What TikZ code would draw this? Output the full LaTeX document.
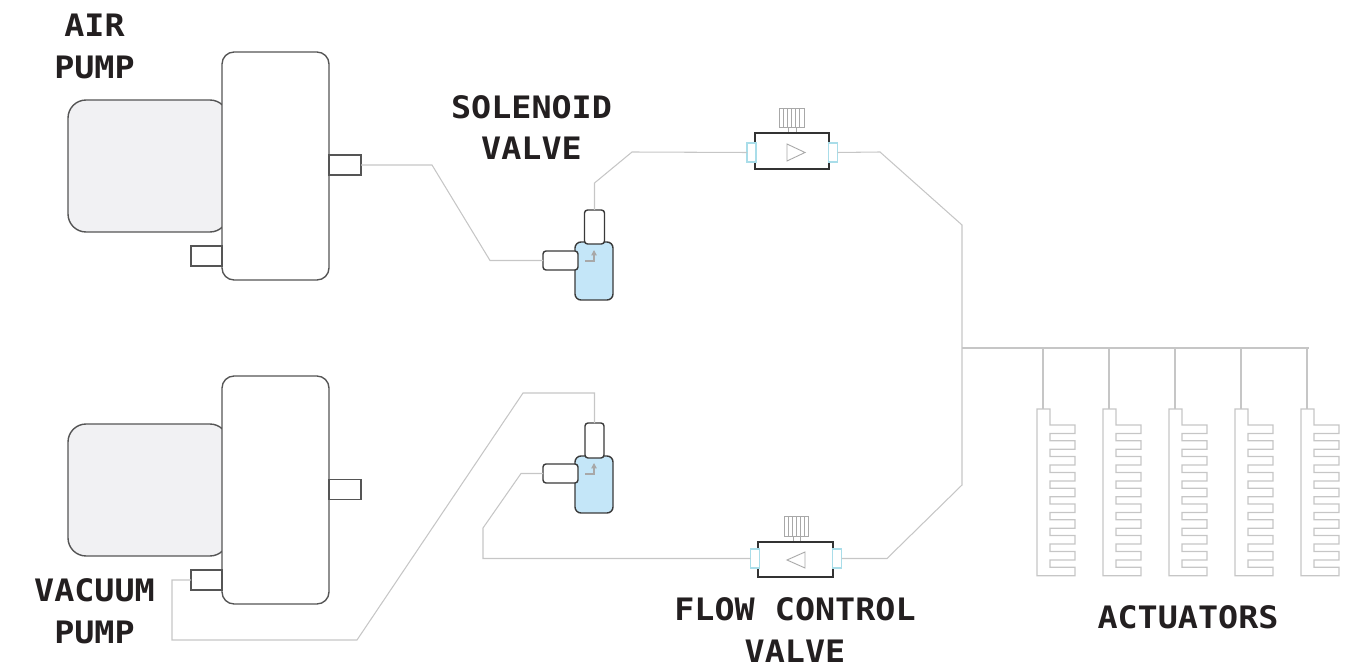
\documentclass[tikz,border=0pt]{standalone}
\usepackage{fontspec}
\newfontfamily\tagfont[FakeStretch=1.08]{DejaVu Sans Mono}
\usetikzlibrary{arrows.meta}

\definecolor{pipegray}{HTML}{C6C6C6}
\definecolor{pumpedge}{HTML}{555555}
\definecolor{motorgray}{HTML}{F1F1F3}
\definecolor{valveblue}{HTML}{C4E6F8}
\definecolor{valveedge}{HTML}{3A3A3A}
\definecolor{connblue}{HTML}{A9DDE9}
\definecolor{knobgray}{HTML}{A8A8A8}
\definecolor{tagblack}{HTML}{231F20}

\tikzset{
  pipe/.style={draw=pipegray, line width=0.6pt},
  part/.style={inner sep=0pt, outer sep=0pt},
  motor/.style={part, draw=pumpedge, fill=motorgray, line width=0.8pt, rounded corners=0.36cm},
  pumpbox/.style={part, draw=pumpedge, fill=white, line width=0.8pt, rounded corners=0.24cm},
  port/.style={part, draw=pumpedge, fill=white, line width=0.8pt},
  valvebody/.style={part, draw=valveedge, fill=valveblue, line width=0.8pt, rounded corners=0.12cm},
  valveport/.style={part, draw=valveedge, fill=white, line width=0.8pt, rounded corners=0.06cm},
  flowbody/.style={part, draw=black!80, fill=white, line width=0.7pt},
  knob/.style={part, draw=knobgray, fill=white, line width=0.5pt},
  conn/.style={part, draw=connblue, fill=white, line width=0.6pt},
  actuator/.style={draw=pipegray, line width=0.7pt},
  tag/.style={font=\tagfont\bfseries\fontsize{17.6}{23.8}\selectfont, text=tagblack, align=center, inner sep=0.5pt}
}

\begin{document}
\begin{tikzpicture}[x=0.02cm, y=-0.02cm]
    \useasboundingbox (0,0) rectangle (1358,668);

    % air pump
    \node[motor, minimum width=3.2cm, minimum height=2.64cm] (airmotor) at (148,166) {};
    \node[pumpbox, minimum width=2.14cm, minimum height=4.56cm] (airbox) at (275.5,166) {};
    \node[port, minimum width=0.64cm, minimum height=0.4cm] (airout) at (345,165) {};
    \node[port, minimum width=0.62cm, minimum height=0.4cm] (airin) at (206.5,256) {};
    \node[tag] (airtag) at (94.5,46.5) {AIR\\PUMP};

    % vacuum pump
    \node[motor, minimum width=3.2cm, minimum height=2.64cm] (vacmotor) at (148,490) {};
    \node[pumpbox, minimum width=2.14cm, minimum height=4.56cm] (vacbox) at (275.5,490) {};
    \node[port, minimum width=0.64cm, minimum height=0.4cm] (vacout) at (345,489.5) {};
    \node[port, minimum width=0.62cm, minimum height=0.4cm] (vacin) at (206.5,580) {};
    \node[tag] (vactag) at (94.5,611) {VACUUM\\PUMP};

    % solenoid valves
    \node[valvebody, minimum width=0.76cm, minimum height=1.16cm] (solA) at (594,271) {};
    \node[valveport, minimum width=0.4cm, minimum height=0.68cm] (solAtop) at (594.5,227) {};
    \node[valveport, minimum width=0.7cm, minimum height=0.38cm] (solAleft) at (560.5,260.5) {};
    \draw[knobgray, line width=0.6pt, -{Triangle[length=3pt, width=3pt]}] (585,261) -- (594,261) -- (594,250);
    \node[tag] (soltag) at (531.5,127.5) {SOLENOID\\VALVE};

    \node[valvebody, minimum width=0.76cm, minimum height=1.14cm] (solB) at (594,484.5) {};
    \node[valveport, minimum width=0.38cm, minimum height=0.7cm] (solBtop) at (594.5,440.5) {};
    \node[valveport, minimum width=0.7cm, minimum height=0.38cm] (solBleft) at (560.5,473.5) {};
    \draw[knobgray, line width=0.6pt, -{Triangle[length=3pt, width=3pt]}] (585,474) -- (594,474) -- (594,463);

    % flow control valves
    \node[knob, minimum width=0.5cm, minimum height=0.38cm] (knobA) at (791.5,117.5) {};
    \foreach \k in {1,...,5}
        \draw[knobgray, line width=0.5pt] ([xshift=\k*0.0833cm]knobA.south west) -- ([xshift=\k*0.0833cm]knobA.north west);
    \node[knob, minimum width=0.16cm, minimum height=0.14cm] (stemA) at (792,130.5) {};
    \node[flowbody, minimum width=1.48cm, minimum height=0.72cm] (fcvA) at (792,151) {};
    \node[conn, minimum width=0.18cm, minimum height=0.38cm] (fcvAl) at (751.5,152.5) {};
    \node[conn, minimum width=0.18cm, minimum height=0.38cm] (fcvAr) at (833,152.5) {};
    \draw[knobgray, line width=0.5pt] (787,144) -- (805,152.5) -- (787,161) -- cycle;

    \node[knob, minimum width=0.48cm, minimum height=0.4cm] (knobB) at (796,526) {};
    \foreach \k in {1,...,5}
        \draw[knobgray, line width=0.5pt] ([xshift=\k*0.08cm]knobB.south west) -- ([xshift=\k*0.08cm]knobB.north west);
    \node[knob, minimum width=0.14cm, minimum height=0.12cm] (stemB) at (796.5,539) {};
    \node[flowbody, minimum width=1.5cm, minimum height=0.7cm] (fcvB) at (795.5,559.5) {};
    \node[conn, minimum width=0.18cm, minimum height=0.38cm] (fcvBl) at (755,558.5) {};
    \node[conn, minimum width=0.18cm, minimum height=0.38cm] (fcvBr) at (837,558.5) {};
    \draw[knobgray, line width=0.5pt] (787,560) -- (805,552) -- (805,568) -- cycle;
    \node[tag] (fcvtag) at (795,630) {FLOW CONTROL\\VALVE};

    % tubing
    \draw[pipe] (airout.east) -- (432,165) -- (490,260.5) -- (solAleft.west);
    \draw[pipe] (solAtop.north) -- (594.5,183) -- (632,152) -- (fcvAl.west);
    \draw[pipe] (vacin.west) -- (172,580) -- (172,640) -- (357,640) -- (523,393) -- (594.5,393) -- (solBtop.north);
    \draw[pipe] (solBleft.west) -- (521,473.5) -- (483,528) -- (483,558.5) -- (fcvBl.west);

    \coordinate (hub) at (962,348);
    \draw[pipe] (fcvAr.east) -- (880,152) -- (962,225) -- (hub) -- (962,485) -- (887,558.5) -- (fcvBr.east);
    \coordinate (tapend) at (1309,348);
    \draw[pipe] (hub) -- (tapend);

    % actuators
    \foreach \i in {0,...,4}{
        \coordinate (tap\i) at (1043+66*\i,348);
        \coordinate (act\i) at (1043+66*\i,409);
        \draw[pipe] (tap\i) -- (act\i);
        \draw[actuator] (1037+66*\i,409) -- (1050+66*\i,409)
            \foreach \k in {0,...,9}{
                -- (1050+66*\i,425+15.8*\k) -- (1075+66*\i,425+15.8*\k)
                -- (1075+66*\i,433.5+15.8*\k) -- (1050+66*\i,433.5+15.8*\k)
            }
            -- (1037+66*\i,575.7) -- cycle;
    }
    \node[tag] (acttag) at (1188,617) {ACTUATORS};
\end{tikzpicture}
\end{document}
